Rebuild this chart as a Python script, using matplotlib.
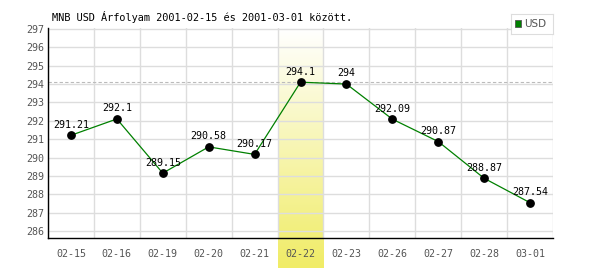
import matplotlib
matplotlib.use("Agg")
import matplotlib.pyplot as plt
import numpy as np
from matplotlib.colors import LinearSegmentedColormap

dates = ["02-15", "02-16", "02-19", "02-20", "02-21", "02-22", "02-23", "02-26", "02-27", "02-28", "03-01"]
values = [291.21, 292.1, 289.15, 290.58, 290.17, 294.1, 294.0, 292.09, 290.87, 288.87, 287.54]
labels = ["291.21", "292.1", "289.15", "290.58", "290.17", "294.1", "294", "292.09", "290.87", "288.87", "287.54"]
highlight = 5
yticks = list(range(286, 298))

font = "DejaVu Sans Mono"
fs = 7.2
fig = plt.figure(figsize=(6, 2.7), dpi=100)
ax = fig.add_axes([48/600, 1-238/270, 505/600, 210/270])
x = np.arange(len(dates))
ax.set_xlim(-0.5, len(dates)-0.5)
ax.set_ylim(285.62, 297.05)

# highlight gradient band (extends below axis)
cmap = LinearSegmentedColormap.from_list("hl", ["#ffffff", "#f0ec66"])
grad = np.linspace(0, 1, 256).reshape(-1, 1)
bx0, bx1 = highlight-0.5, highlight+0.5
trans = ax.transData.transform
(px0, _) = trans((bx0, 286))
(px1, _) = trans((bx1, 286))
figw = fig.get_size_inches()[0]*fig.dpi
bax = fig.add_axes([px0/figw, 2/270, (px1-px0)/figw, 240/270], zorder=-1)
bax.imshow(grad, aspect="auto", cmap=cmap, extent=[0, 1, 0, 1], origin="upper")
bax.axis("off")
ax.patch.set_alpha(0)
fig.patch.set_facecolor("white")

ax.set_xticks(np.arange(-0.5, len(dates), 1), minor=False)
ax.set_xticks(x, minor=True)
ax.set_xticklabels([], minor=False)
ax.set_xticklabels(dates, minor=True, fontfamily=font, fontsize=fs, color="#555555")
ax.tick_params(axis="x", which="both", length=0, pad=8)
ax.set_yticks(yticks)
ax.set_yticklabels([str(t) for t in yticks], fontfamily=font, fontsize=fs, color="#555555")
ax.tick_params(axis="y", length=0, pad=3)
ax.grid(True, which="major", color="#dddddd", linewidth=1)
ax.set_axisbelow(True)
for s in ["top", "right"]:
    ax.spines[s].set_visible(False)
ax.spines["left"].set_linewidth(1.0)
ax.spines["bottom"].set_linewidth(1.0)

ax.axhline(values[highlight], color="#bbbbbb", linestyle=(0, (3, 2)), linewidth=0.8, zorder=1)
ax.plot(x, values, color="#008000", linewidth=0.9, zorder=2)
ax.scatter(x, values, color="black", s=28, zorder=3)
for xi, v, lab in zip(x, values, labels):
    ax.annotate(lab, (xi, v), xytext=(0, 4), textcoords="offset points", ha="center", va="bottom",
                fontfamily=font, fontsize=fs, color="black", zorder=4)

fig.text(52/600, 1-17/270, "MNB USD Árfolyam 2001-02-15 és 2001-03-01 között.", fontfamily=font,
         fontsize=7.4, va="center", ha="left", color="black")

# legend box
lax = fig.add_axes([511/600, 1-34/270, 42/600, 20/270])
lax.set_xlim(0, 42); lax.set_ylim(20, 0)
lax.set_xticks([]); lax.set_yticks([])
for s in lax.spines.values():
    s.set_color("#dddddd")
lax.add_patch(plt.Rectangle((4, 6), 6, 7, facecolor="#008000", edgecolor="#555555", linewidth=0.6))
lax.text(13, 10, "USD", fontsize=7.5, va="center", ha="left", color="#555555", fontfamily="DejaVu Sans")

fig.savefig("out.png", dpi=100, facecolor="white")
